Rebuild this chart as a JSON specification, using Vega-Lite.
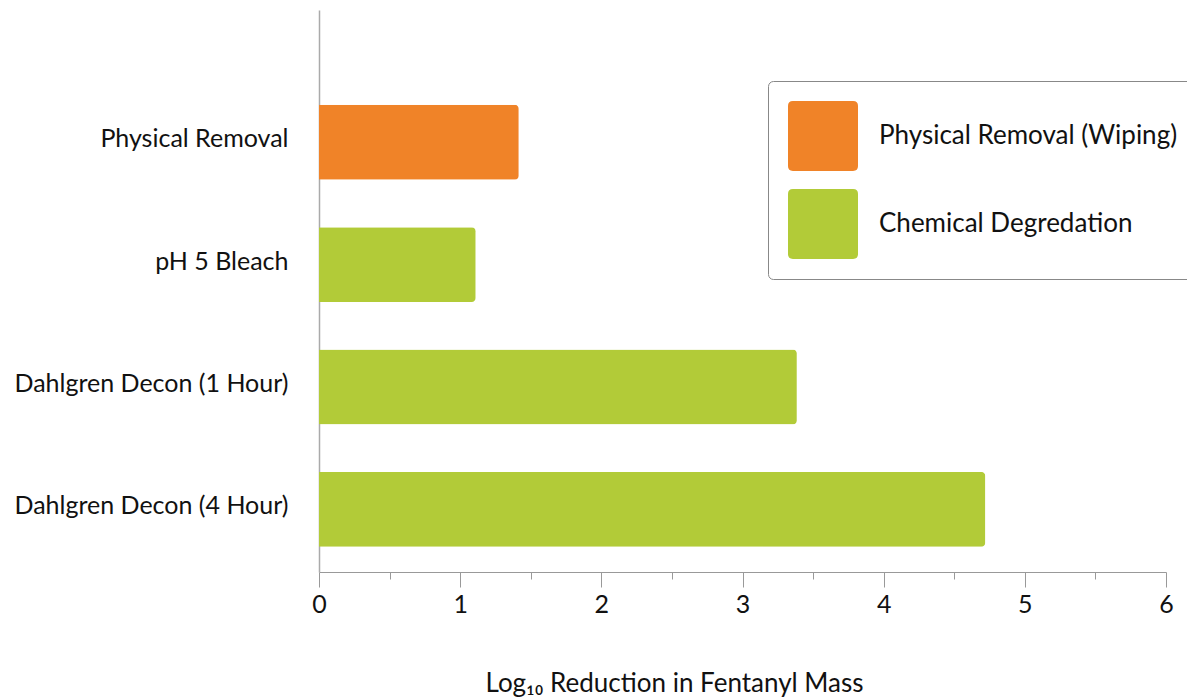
{
  "$schema": "https://vega.github.io/schema/vega-lite/v6.json",
  "autosize": {"type": "none"},
  "width": 847,
  "height": 562,
  "padding": {"left": 319, "top": 10, "right": 21, "bottom": 128},
  "background": "white",
  "config": {
    "font": "Lato",
    "view": {"stroke": null}
  },
  "data": {
    "values": [
      {"method": "Physical Removal", "value": 1.415, "type": "Physical Removal (Wiping)"},
      {"method": "pH 5 Bleach", "value": 1.11, "type": "Chemical Degredation"},
      {"method": "Dahlgren Decon (1 Hour)", "value": 3.385, "type": "Chemical Degredation"},
      {"method": "Dahlgren Decon (4 Hour)", "value": 4.72, "type": "Chemical Degredation"}
    ]
  },
  "mark": {"type": "bar", "cornerRadiusEnd": 4},
  "encoding": {
    "y": {
      "field": "method",
      "type": "nominal",
      "sort": ["Physical Removal", "pH 5 Bleach", "Dahlgren Decon (1 Hour)", "Dahlgren Decon (4 Hour)"],
      "scale": {"paddingInner": 0.388, "paddingOuter": 0.49, "align": 0.79},
      "axis": {
        "title": null,
        "ticks": false,
        "labelFontSize": 25,
        "labelColor": "#111111",
        "labelPadding": 31,
        "labelLimit": 400,
        "labelOffset": -3,
        "domainColor": "#aaaaaa",
        "domainWidth": 1.5
      }
    },
    "x": {
      "field": "value",
      "type": "quantitative",
      "scale": {"domain": [0, 6], "nice": false},
      "axis": {
        "title": "Log₁₀ Reduction in Fentanyl Mass",
        "titleFontSize": 26,
        "titleFontWeight": "normal",
        "titleColor": "#111111",
        "titlePadding": 53,
        "titleX": 355,
        "titleAlign": "center",
        "values": [0, 0.5, 1, 1.5, 2, 2.5, 3, 3.5, 4, 4.5, 5, 5.5, 6],
        "labelExpr": "datum.value % 1 === 0 ? format(datum.value, 'd') : ''",
        "labelFontSize": 25,
        "labelColor": "#111111",
        "labelPadding": 5,
        "labelFlush": false,
        "grid": false,
        "domainColor": "#999999",
        "tickColor": "#999999",
        "tickSize": {"condition": {"test": "datum.value % 1 !== 0", "value": 7}, "value": 15}
      }
    },
    "color": {
      "field": "type",
      "type": "nominal",
      "scale": {
        "domain": ["Physical Removal (Wiping)", "Chemical Degredation"],
        "range": ["#F08328", "#B2CB38"]
      },
      "legend": {
        "title": null,
        "orient": "none",
        "legendX": 449,
        "legendY": 71,
        "padding": 20,
        "strokeColor": "#888888",
        "cornerRadius": 5,
        "fillColor": "white",
        "symbolType": "M-0.86,-1 L0.86,-1 Q1,-1 1,-0.86 L1,0.86 Q1,1 0.86,1 L-0.86,1 Q-1,1 -1,0.86 L-1,-0.86 Q-1,-1 -0.86,-1 Z",
        "symbolSize": 4900,
        "symbolStrokeWidth": 0,
        "symbolOpacity": 1,
        "rowPadding": 18,
        "labelOffset": 21,
        "labelFontSize": 26,
        "labelColor": "#111111",
        "labelLimit": 400
      }
    }
  }
}
